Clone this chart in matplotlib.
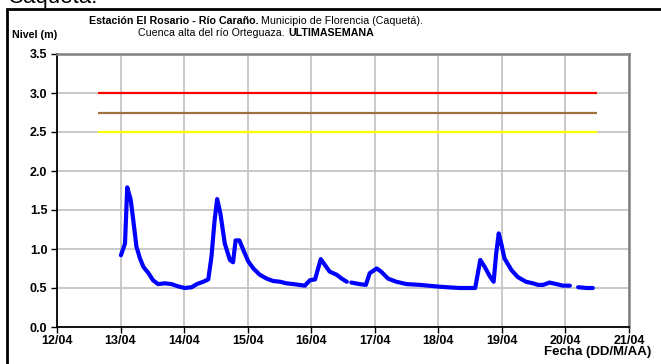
import numpy as np
import matplotlib
matplotlib.use("Agg")
import matplotlib.pyplot as plt
from matplotlib.patches import Rectangle

plt.rcParams['font.family'] = ['Liberation Sans', 'DejaVu Sans']

# Time in days since 12/04 00:00, water level in metres
t_days = [1.006, 1.07, 1.105, 1.16, 1.20, 1.25, 1.305, 1.36, 1.44, 1.51, 1.59,
          1.70, 1.80, 1.91, 2.01, 2.12, 2.20, 2.30, 2.38, 2.43, 2.48, 2.52,
          2.57, 2.64, 2.72, 2.77, 2.81, 2.87, 2.93, 3.01, 3.09, 3.19, 3.30,
          3.40, 3.51, 3.61, 3.72, 3.81, 3.90, 3.98, 4.06, 4.15, 4.29, 4.40,
          4.48, 4.56, 4.60, 4.63, 4.76, 4.86, 4.92, 5.03, 5.10, 5.21, 5.34,
          5.50, 5.71, 5.97, 6.13, 6.34, 6.58, 6.66, 6.73, 6.81, 6.87, 6.91,
          6.95, 6.99, 7.04, 7.15, 7.25, 7.38, 7.49, 7.57, 7.65, 7.75, 7.86,
          7.96, 8.07, 8.12, 8.20, 8.33, 8.43]
nivel = [0.92, 1.07, 1.79, 1.63, 1.37, 1.03, 0.88, 0.77, 0.69, 0.60, 0.55,
         0.56, 0.55, 0.52, 0.50, 0.51, 0.55, 0.58, 0.61, 0.90, 1.37, 1.64,
         1.46, 1.07, 0.86, 0.83, 1.11, 1.11, 0.99, 0.84, 0.75, 0.67, 0.62,
         0.59, 0.58, 0.56, 0.55, 0.54, 0.53, 0.60, 0.61, 0.87, 0.71, 0.67,
         0.62, 0.58, np.nan, 0.57, 0.55, 0.54, 0.69, 0.75, 0.71, 0.62, 0.58,
         0.55, 0.54, 0.52, 0.51, 0.50, 0.50, 0.86, 0.77, 0.65, 0.58, 0.94,
         1.20, 1.07, 0.88, 0.73, 0.64, 0.58, 0.56, 0.54, 0.54, 0.57, 0.55,
         0.53, 0.53, np.nan, 0.51, 0.50, 0.50]

# Alert thresholds (m) and the span over which they are drawn
umbral_rojo = 3.0
umbral_naranja = 2.75
umbral_amarillo = 2.5
umbral_inicio = 0.64
umbral_fin = 8.5

x_ticklabels = ["12/04", "13/04", "14/04", "15/04", "16/04",
                "17/04", "18/04", "19/04", "20/04", "21/04"]
y_ticks = [0.0, 0.5, 1.0, 1.5, 2.0, 2.5, 3.0, 3.5]

W, H = 661, 364
fig = plt.figure(figsize=(W / 100, H / 100), dpi=100)

# Page heading, running off the top edge above the frame
fig.text(8 / W, 1 + 2 / H, "Caquetá:", fontsize=16, ha='left', va='center',
         color='black')

# Black frame around the chart
fig.patches.append(Rectangle((7 / W, -0.1), 1.0, 1 - 9 / H + 0.1,
                             transform=fig.transFigure, fill=False,
                             edgecolor='black', linewidth=2.0))

ax = fig.add_axes([57 / W, 1 - 327 / H, 572 / W, 273 / H])

ax.set_xlim(0, 9)
ax.set_ylim(0, 3.5)
ax.set_xticks(range(len(x_ticklabels)))
ax.set_xticklabels(x_ticklabels)
ax.set_yticks(y_ticks)
ax.set_yticklabels([f"{v:.1f}" for v in y_ticks])

ax.grid(True, color='#c0c0c0', linewidth=1.2)
ax.set_axisbelow(True)

for sp in ('left', 'bottom'):
    ax.spines[sp].set_color('black')
    ax.spines[sp].set_linewidth(1.3)
for sp in ('top', 'right'):
    ax.spines[sp].set_color('#808080')
    ax.spines[sp].set_linewidth(1.8)

ax.tick_params(axis='both', direction='out', length=4, width=1.0,
               color='black', labelsize=9)
ax.tick_params(axis='x', pad=2)
ax.tick_params(axis='y', pad=3)
for lab in ax.get_xticklabels() + ax.get_yticklabels():
    lab.set_fontweight('bold')

ax.hlines(umbral_rojo, umbral_inicio, umbral_fin, color='#ff0000', linewidth=1.6)
ax.hlines(umbral_naranja, umbral_inicio, umbral_fin, color='#a07040', linewidth=1.6)
ax.hlines(umbral_amarillo, umbral_inicio, umbral_fin, color='#ffff00', linewidth=1.6)

ax.plot(t_days, nivel, color='#0000ff', linewidth=3.0,
        solid_joinstyle='round', solid_capstyle='round')

# Title in two lines, mixing bold and regular weights
cx = 256 / W
t1a = "Estación El Rosario - Río Caraño."
t1b = " Municipio de Florencia (Caquetá)."
t2a = "Cuenca alta del río Orteguaza. "
t2b = "ULTIMASEMANA"

fs_title = 7.7
renderer = fig.canvas.get_renderer()


def two_part(y_px, a, wa, b, wb):
    ta = fig.text(0, 1 - y_px / H, a, fontsize=fs_title, fontweight=wa,
                  ha='left', va='center')
    tb = fig.text(0, 1 - y_px / H, b, fontsize=fs_title, fontweight=wb,
                  ha='left', va='center')
    wa_px = ta.get_window_extent(renderer).width
    wb_px = tb.get_window_extent(renderer).width
    x0 = cx * W - (wa_px + wb_px) / 2
    ta.set_x(x0 / W)
    tb.set_x((x0 + wa_px) / W)


two_part(21, t1a, 'bold', t1b, 'normal')
two_part(33, t2a, 'normal', t2b, 'bold')

fig.text(12 / W, 1 - 35 / H, "Nivel (m)", fontsize=7.7, fontweight='bold',
         ha='left', va='center')
fig.text(651 / W, 1 - 352 / H, "Fecha (DD/M/AA)", fontsize=9.5,
         fontweight='bold', ha='right', va='center')

fig.savefig("out.png", dpi=100)
